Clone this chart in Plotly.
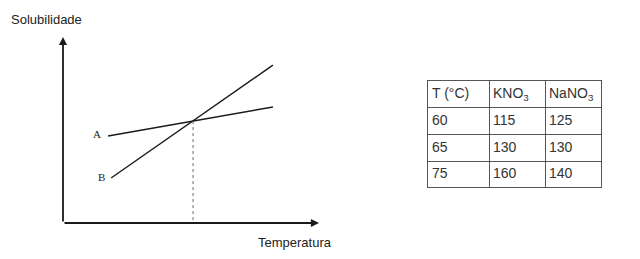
import plotly.graph_objects as go

# --- data (schematic curve; axis units 0..10) ---
curve_A_x = [1.76, 8.2]
curve_A_y = [4.68, 6.24]
curve_B_x = [1.88, 8.2]
curve_B_y = [2.42, 8.49]
cross_x = 5.08
cross_y = 5.48
label_A = "A"
label_B = "B"
y_title = "Solubilidade"
x_title = "Temperatura"

# --- table data ---
table_header = ["T (°C)", "KNO<sub>3</sub>", "NaNO<sub>3</sub>"]
col_T = ["60", "65", "75"]
col_KNO3 = ["115", "130", "160"]
col_NaNO3 = ["125", "130", "140"]

# table geometry (in table-axis units = pixels)
col_edges = [0, 61, 117, 173]
row_edges = [0, 26, 53, 80, 106]

W, H = 640, 259
def px_x(p):
    return p / W
def px_y(p):
    return (H - p) / H

fig = go.Figure()

line_style = dict(color="#1a1a1a", width=1.4)
fig.add_trace(go.Scatter(x=curve_A_x, y=curve_A_y, mode="lines", line=line_style,
                         hoverinfo="skip", showlegend=False))
fig.add_trace(go.Scatter(x=curve_B_x, y=curve_B_y, mode="lines", line=line_style,
                         hoverinfo="skip", showlegend=False))
fig.add_trace(go.Scatter(x=[cross_x, cross_x], y=[cross_y, 0], mode="lines",
                         line=dict(color="#666", width=1, dash="dot"),
                         hoverinfo="skip", showlegend=False))

# table cell texts
columns = [col_T, col_KNO3, col_NaNO3]
tx, ty, tt = [], [], []
for ci in range(3):
    cells = [table_header[ci]] + columns[ci]
    for ri, val in enumerate(cells):
        tx.append(col_edges[ci] + 4)
        ty.append((row_edges[ri] + row_edges[ri + 1]) / 2 + 0.5)
        tt.append(val)
fig.add_trace(go.Scatter(x=tx, y=ty, text=tt, mode="text", textposition="middle right",
                         textfont=dict(family="Liberation Sans", size=14, color="#333"),
                         xaxis="x2", yaxis="y2", hoverinfo="skip", showlegend=False))

annotations = [
    dict(x=10, y=0, ax=0, ay=0, xref="x", yref="y", axref="x", ayref="y", text="",
         showarrow=True, arrowhead=2, arrowsize=0.9, arrowwidth=1.8, arrowcolor="#1a1a1a"),
    dict(x=0, y=10, ax=0, ay=0, xref="x", yref="y", axref="x", ayref="y", text="",
         showarrow=True, arrowhead=2, arrowsize=0.9, arrowwidth=1.8, arrowcolor="#1a1a1a"),
    dict(x=1.33, y=4.81, xref="x", yref="y", text=label_A, showarrow=False,
         font=dict(family="Liberation Serif", size=11, color="#222")),
    dict(x=1.50, y=2.5, xref="x", yref="y", text=label_B, showarrow=False,
         font=dict(family="Liberation Serif", size=11, color="#222")),
    dict(x=px_x(9), y=px_y(20), xref="paper", yref="paper", text=y_title, showarrow=False,
         xanchor="left", yanchor="middle",
         font=dict(family="Liberation Sans", size=13, color="#222")),
    dict(x=px_x(256), y=px_y(242), xref="paper", yref="paper", text=x_title, showarrow=False,
         xanchor="left", yanchor="middle",
         font=dict(family="Liberation Sans", size=13, color="#222")),
]

grid_common = dict(showgrid=True, gridcolor="#555", gridwidth=1, showticklabels=False,
                   ticks="", zeroline=False, showline=True, mirror=True,
                   linecolor="#555", linewidth=1, fixedrange=True)

fig.update_layout(
    width=W, height=H, margin=dict(l=0, r=0, t=0, b=0),
    paper_bgcolor="white", plot_bgcolor="white",
    xaxis=dict(domain=[px_x(63), px_x(319)], range=[0, 10], visible=False, fixedrange=True),
    yaxis=dict(domain=[px_y(223), px_y(37)], range=[0, 10], visible=False, fixedrange=True),
    xaxis2=dict(domain=[px_x(428), px_x(601)], range=[col_edges[0], col_edges[-1]],
                tickvals=col_edges[1:-1], anchor="y2", **grid_common),
    yaxis2=dict(domain=[px_y(187), px_y(81)], range=[row_edges[-1], row_edges[0]],
                tickvals=row_edges[1:-1], anchor="x2", **grid_common),
    annotations=annotations,
)

fig.write_html("out.html")
